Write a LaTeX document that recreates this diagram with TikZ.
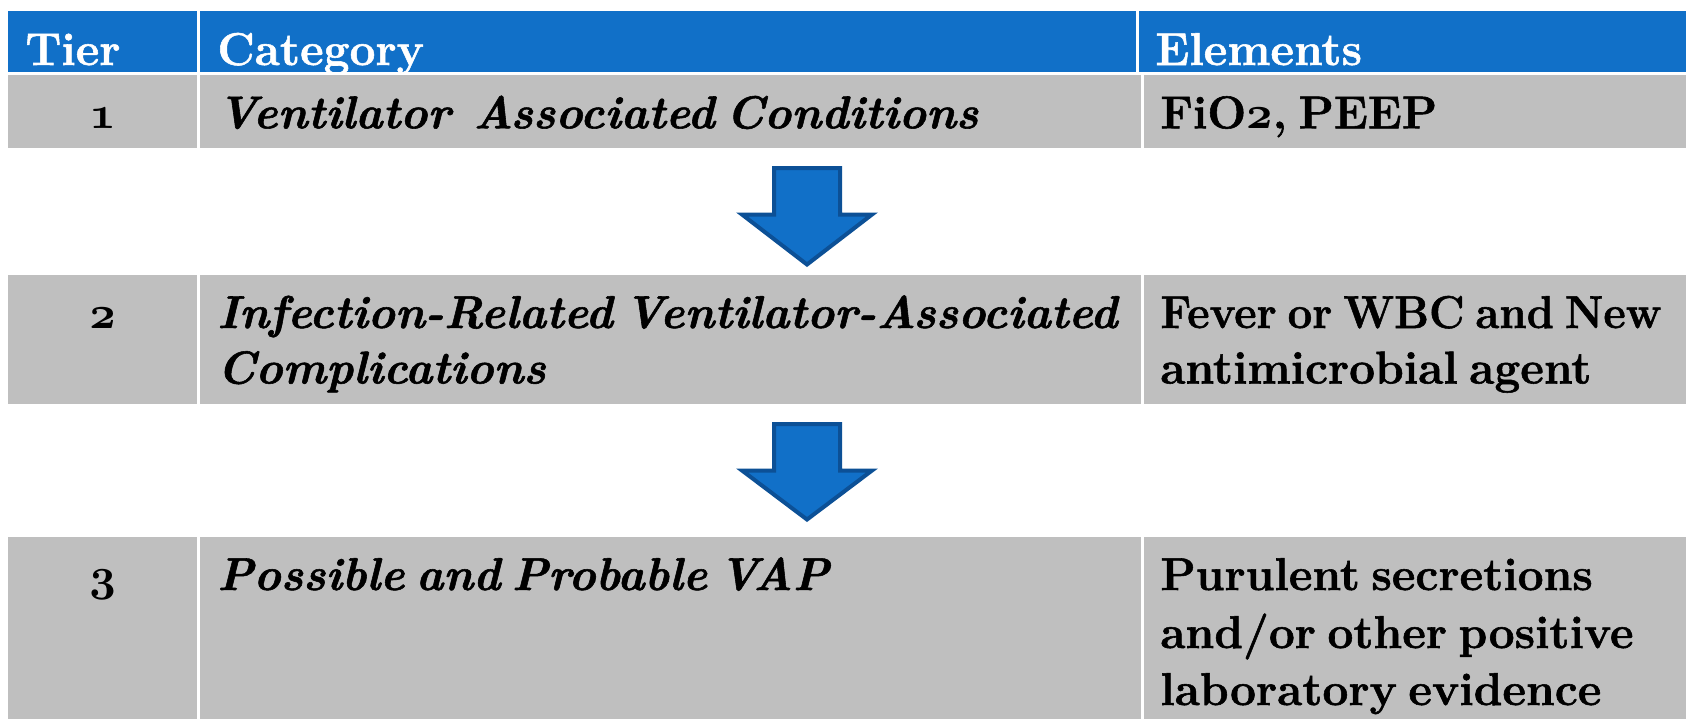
\documentclass[tikz,border=0pt]{standalone}
\usepackage{fix-cm}
\usepackage{fontspec}
\newfontfamily\bodyfam{lmroman12-bold.otf}[ItalicFont=lmroman10-bolditalic.otf, FakeBold=1.2]
\definecolor{hdrblue}{HTML}{1170C8}
\definecolor{cellgray}{HTML}{BFBFBF}
\definecolor{arrowblue}{HTML}{1170C8}
\definecolor{arrowedge}{HTML}{0C5096}
\newcommand\bodyfont{\bodyfam\fontsize{23}{28}\selectfont\spaceskip=.25em plus .1em minus .05em\relax}
\newcommand\osn[1]{{\usefont{OML}{cmm}{b}{it}#1}}
\tikzset{
  hdrcell/.style={fill=hdrblue},
  graycell/.style={fill=cellgray},
  txt/.style={inner sep=0pt, anchor=base west, font=\bodyfont},
  hdrtxt/.style={txt, text=white},
  cattxt/.style={txt, font=\bodyfont\itshape},
  numtxt/.style={inner sep=0pt, anchor=base, font=\bodyfont},
  blockarrow/.style={fill=arrowblue, draw=arrowedge, line width=2pt, line join=miter}
}
\begin{document}
\begin{tikzpicture}[x=0.5pt,y=-0.5pt]
\useasboundingbox (0,0) rectangle (1686,719);
\fill[white] (0,0) rectangle (1686,719);
% header
\fill[hdrcell] (8,11) rectangle (197.3,72);
\fill[hdrcell] (200,11) rectangle (1136,72);
\fill[hdrcell] (1139,11) rectangle (1686,72);
% row 1
\fill[graycell] (8,75) rectangle (197.3,147.5);
\fill[graycell] (200,75) rectangle (1141,147.5);
\fill[graycell] (1144,75) rectangle (1686,147.5);
% row 2
\fill[graycell] (8,275) rectangle (197.3,404);
\fill[graycell] (200,275) rectangle (1141,404);
\fill[graycell] (1144,275) rectangle (1686,404);
% row 3
\fill[graycell] (8,537) rectangle (197.3,719);
\fill[graycell] (200,537) rectangle (1141,719);
\fill[graycell] (1144,537) rectangle (1686,719);
% arrows
\filldraw[blockarrow] (774,168) -- (840,168) -- (840,214.5) -- (872,214.5) -- (807,264.5) -- (742,214.5) -- (774,214.5) -- cycle;
\filldraw[blockarrow] (774,424) -- (840,424) -- (840,470.5) -- (872,470.5) -- (807,519.5) -- (742,470.5) -- (774,470.5) -- cycle;
% header text
\node[hdrtxt] (htier) at (25,65) {Tier};
\node[hdrtxt] (hcat) at (217,65) {Category};
\node[hdrtxt] (hel) at (1155,65) {Elements};
% row 1
\node[numtxt] (n1) at (102.5,128.3) {\osn{1}};
\node[cattxt] (c1) at (217,128.3) {Ventilator\ \ Associated Conditions};
\node[txt] (e1) at (1160,128.3) {FiO\osn{2}, PEEP};
% row 2
\node[numtxt] (n2) at (102.5,328) {\osn{2}};
\node[cattxt] (c2a) at (217,328) {Infection-Related Ventilator-Associated};
\node[cattxt] (c2b) at (217,383.5) {Complications};
\node[txt] (e2a) at (1160,328) {\scalebox{0.95}[1]{Fever or WBC and New}};
\node[txt] (e2b) at (1160,383.5) {antimicrobial agent};
% row 3
\node[numtxt] (n3) at (102.5,590) {\osn{3}};
\node[cattxt] (c3) at (217,590) {Possible and Probable VAP};
\node[txt] (e3a) at (1160,590) {Purulent secretions};
\node[txt] (e3b) at (1160,648) {and/or other positive};
\node[txt] (e3c) at (1160,705) {laboratory evidence};
\end{tikzpicture}
\end{document}
